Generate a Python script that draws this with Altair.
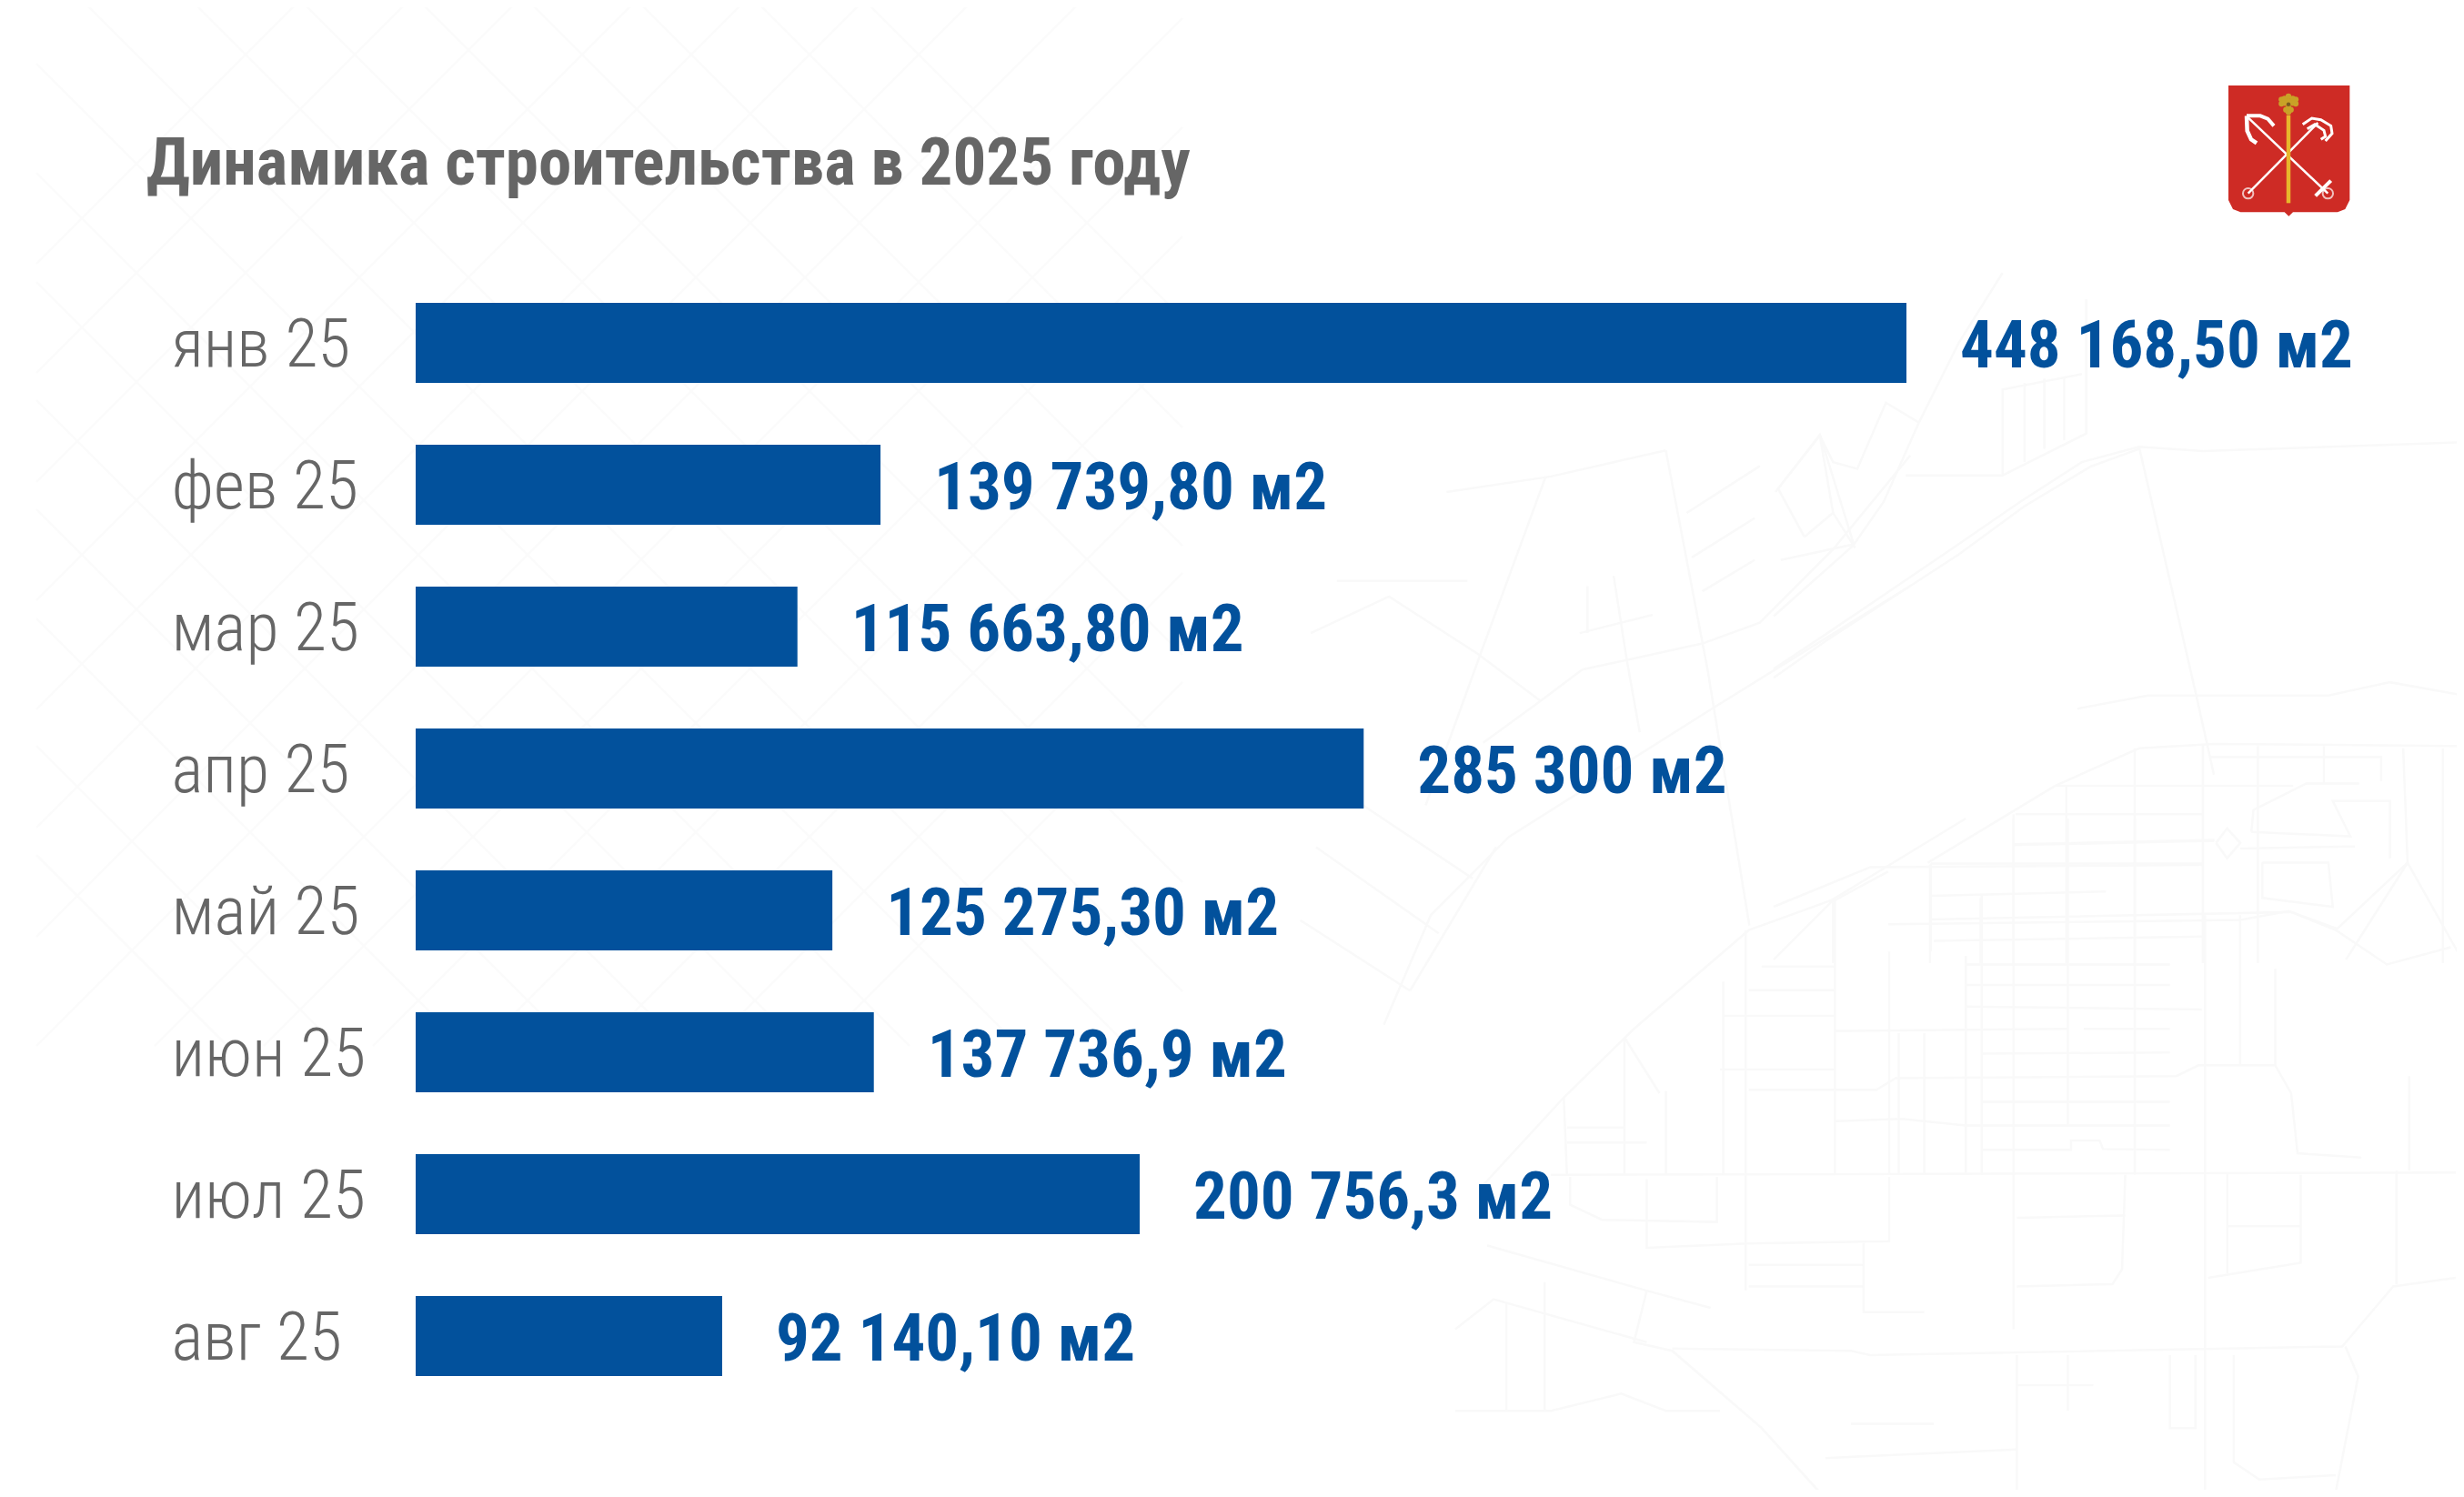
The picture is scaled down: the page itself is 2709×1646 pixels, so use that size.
import altair as alt
import pandas as pd

months = ["янв 25", "фев 25", "мар 25", "апр 25", "май 25", "июн 25", "июл 25", "авг 25"]
bar_values = [448168.5, 139739.8, 114770, 285000, 125275.3, 137736.9, 217660, 92140.1]
value_labels = ["448 168,50 м2", "139 739,80 м2", "115 663,80 м2", "285 300 м2",
                "125 275,30 м2", "137 736,9 м2", "200 756,3 м2", "92 140,10 м2"]
title_text = "Динамика строительства в 2025 году"

BLUE = "#02519C"
GREY = "#666666"
FONT = "Roboto Condensed"
ROAD = "#f9f9f9"
HATCH = "#fbfbfb"

z3 = [
 [(875,60),(1190,50)],[(1230,70),(1410,65)],[(745,105),(1170,105)],[(745,180),(1020,170)],
 [(745,235),(1310,218),(1380,260),(1460,340),(1560,300)],[(750,285),(1170,275)],[(800,340),(1120,340)],
 [(800,388),(1120,388)],[(800,438),(1170,445)],[(595,495),(960,490)],[(985,490),(1120,490)],
 [(825,548),(1120,545)],[(415,585),(595,585)],[(460,632),(660,632),(690,605),(1130,600),(1165,575),(1285,575)],
 [(825,660),(1120,660)],[(595,705),(700,700),(800,715),(1120,715)],
 [(825,772),(965,772),(965,750),(1010,750),(1015,770),(1120,772)],[(150,830),(1568,825)],
 [(875,0),(875,1190)],[(960,0),(960,715)],[(1065,0),(1065,830)],[(1175,225),(1175,1568)],[(1230,225),(1230,575)],
 [(1285,350),(1285,575),(1310,640),(1320,780),(1420,790)],[(825,180),(825,830)],[(745,105),(745,310)],
 [(595,190),(595,830)],[(455,260),(455,1100)],[(420,380),(420,830)],[(680,310),(680,830)],[(800,320),(800,830)],
 [(735,500),(735,830)],[(695,500),(695,830)],
 [(40,860),(170,650),(280,490),(460,260),(590,190),(800,0)],[(170,650),(175,830)],[(175,720),(265,720)],
 [(175,755),(300,755)],[(265,510),(265,830)],[(320,640),(265,510)],[(330,635),(330,830)],
 [(480,345),(595,345)],[(460,400),(595,400)],[(420,460),(595,460)],
 [(180,835),(180,900),(230,935),(410,940),(410,835)],[(300,840),(300,1000),(460,990),(680,985),(680,835)],
 [(50,995),(300,1100),(400,1140)],[(300,1100),(280,1220),(340,1240),(480,1420),(570,1568)],
 [(460,1040),(640,1040)],[(460,1090),(640,1090)],[(640,990),(640,1150),(735,1150)],
 [(880,930),(1050,925)],[(1050,830),(1045,1050),(1030,1085),(880,1090)],
 [(340,1235),(620,1240),(650,1250),(1390,1230),(1470,1090),(1568,1070)],
 [(1180,1070),(1325,1035),(1325,830)],[(1210,950),(1325,950)],[(1210,825),(1210,1060)],
 [(1495,600),(1495,820)],[(1475,820),(1475,1085)],[(0,1380),(150,1380),(260,1340),(330,1380),(415,1380)],
 [(140,1080),(140,1380)],[(80,1130),(80,1380)],[(0,1190),(60,1120),(300,1220)],
 [(620,1410),(750,1410)],[(580,1490),(880,1470)],[(880,1250),(880,1568)],[(960,1250),(960,1380)],
 [(880,1320),(1000,1320)],[(1395,1230),(1415,1300),(1380,1568)],[(1220,1250),(1220,1500),(1260,1540),(1380,1530)],
 [(1120,1250),(1120,1420),(1160,1420),(1160,1250)],
]
z4 = [
 [(1100,340),(1180,760),(1260,1250)],[(680,420),(880,390),(1100,340)],[(870,390),(745,730),(640,1020)],
 [(750,900),(860,820),(940,760),(1170,710),(1280,670),(1420,530),(1568,350)],
 [(1568,600),(1180,840),(800,1080),(650,1230),(560,1440)],[(1140,460),(1280,370)],[(1150,545),(1270,470)],
 [(1170,610),(1270,550)],[(1310,420),(1395,310),(1460,520),(1320,550)],[(420,690),(570,620),(740,730),(860,820)],
 [(430,1100),(665,1265)],[(490,1000),(730,1160)],[(400,1240),(610,1375)],[(610,1375),(775,1100)],
 [(950,600),(950,690)],[(1000,580),(1025,740),(1050,880)],[(935,690),(1075,655)],
 [(470,590),(720,590)],
]
z5 = [
 [(0,780),(180,620),(250,520),(330,340),(420,160),(520,0)],
 [(0,900),(120,820),(400,630),(560,520),(700,430),(830,395),(975,405),(1568,385)],
 [(0,920),(120,835),(420,640),(570,530),(720,440),(830,400)],[(830,395),(960,960),(1000,1140)],
 [(300,460),(520,460),(710,365),(710,60)],[(520,460),(520,265),(700,230)],[(570,430),(570,250)],
 [(615,400),(615,240)],[(660,380),(660,235)],[(10,490),(105,370),(135,430),(190,445),(255,295),(330,340)],
 [(10,490),(70,600)],[(70,600),(135,545),(105,370)],[(135,545),(185,625)],
 [(350,1340),(640,1165),(830,1080),(1000,1070),(1568,1075)],[(0,1440),(220,1350),(975,1345)],
 [(690,990),(850,960),(1260,960),(1400,930),(1568,960)],[(0,1560),(130,1430),(260,1360)],
 [(550,1230),(975,1230)],[(545,1300),(1000,1290)],[(640,1165),(1180,1165)],[(665,1165),(665,1568)],
 [(545,1230),(545,1568)],[(820,1080),(820,1568)],[(975,1070),(975,1568)],[(1100,1075),(1100,1568)],
 [(1250,1075),(1250,1160)],[(355,1345),(355,1568)],[(135,1430),(135,1568)],[(470,1420),(470,1568)],
 [(260,1480),(1060,1470),(1170,1450),(1280,1490),(1440,1340),(1568,1568)],[(1300,1560),(1440,1340),(1430,1080)],
 [(1085,1270),(1090,1220),(1210,1160),(1330,1160)],[(1085,1270),(1310,1280),(1270,1200),(1400,1200),(1400,1330)],
 [(1110,1340),(1260,1340),(1270,1440),(1110,1420),(1110,1340)],[(1520,1080),(1520,1568)],
 [(1005,1295),(1030,1262),(1060,1295),(1030,1330),(1005,1295)],[(990,1100),(1380,1100),(1380,1155)],
]
hatch_down = [-900,-780,-640,-520,-400,-270,-150,-30,90,210,330,460,580,700,830,950]
hatch_up = [330,450,570,700,820,950,1070,1190,1320,1440,1560,1680,1810,1930,2050]

rows = []
def add(path, fx, fy, group):
    i = len({r["id"] for r in rows})
    for k, (a, b) in enumerate(path):
        rows.append({"id": i, "k": k, "x": fx(a), "y": fy(b), "g": group})
for p in z3:
    add(p, lambda a: 1600 + a / 1.4255, lambda b: 900 + b / 2.119, "road")
for p in z4:
    add(p, lambda a: 1200 + a / 1.742, lambda b: 300 + b / 1.742, "road")
for p in z5:
    add(p, lambda a: 1950 + a / 2.066, lambda b: 300 + b / 2.066, "road")
for c in hatch_down:
    add([(max(c, 40), max(c, 40) - c), (min(c + 1150, 1300), min(c + 1150, 1300) - c)], float, float, "hatch")
for c in hatch_up:
    add([(max(c - 1150, 40), c - max(c - 1150, 40)), (min(c, 1300), c - min(c, 1300))], float, float, "hatch")
roads = pd.DataFrame(rows)

shield_x = [150, 150, 165, 190, 335, 349, 363, 510, 535, 550, 550]
shield_lo = [72, 72, 72, 72, 72, 72, 72, 72, 72, 72, 72]
shield_hi = [72, 450, 480, 490, 490, 503, 490, 490, 480, 450, 72]
white_paths = [
 ([(478,428),(215,178)], 2.5), ([(215,428),(445,195)], 2.5),
 ([(437,436),(488,386)], 4),
 ([(210,172),(255,172),(280,182),(300,205)], 4), ([(210,172),(212,222),(225,250),(243,262)], 4.5),
 ([(395,200),(425,180),(455,185),(488,205),(492,230),(470,255)], 3),
 ([(410,215),(435,200),(465,220),(470,240),(455,250)], 3),
]
gold_paths = [[(348,170),(348,460)]]
gold_dots = [(348,108),(325,118),(325,132),(335,115),(335,130),(362,115),(362,130),(372,118),(372,132),
             (348,125),(348,145),(340,152),(356,152),(348,160)]
dark_dots = [(348,134)]

emb = []
for i, (p, w) in enumerate(white_paths):
    for k, (a, b) in enumerate(p):
        emb.append({"id": i, "k": k, "x": 2400 + a / 3, "y": 70 + b / 3, "w": w})
emblem_white = pd.DataFrame(emb)
shield = pd.DataFrame({"x": [2400 + a / 3 for a in shield_x],
                       "y": [70 + a / 3 for a in shield_lo],
                       "y2": [70 + a / 3 for a in shield_hi]})
scepter = pd.DataFrame([{"x": 2400 + a / 3, "y": 70 + b / 3} for p in gold_paths for a, b in p])
dots = pd.DataFrame([{"x": 2400 + a / 3, "y": 70 + b / 3} for a, b in gold_dots])
dark = pd.DataFrame([{"x": 2400 + a / 3, "y": 70 + b / 3} for a, b in dark_dots])
rings = pd.DataFrame({"x": [2400 + 215 / 3, 2400 + 478 / 3], "y": [70 + 428 / 3, 70 + 428 / 3]})
title_df = pd.DataFrame({"x": [161], "y": [203], "t": [title_text]})

# Plot area runs from x 457 to 2096 and y 299 to 1547 of the picture
LEFT, RIGHT, TOP, BOTTOM = 457, 2096, 299, 1547
px = alt.Scale(domain=[LEFT, RIGHT])
py = alt.Scale(domain=[BOTTOM, TOP])
X = alt.X("x:Q", scale=px, axis=None)
Y = alt.Y("y:Q", scale=py, axis=None)

hatch_layer = alt.Chart(roads[roads.g == "hatch"]).mark_line(color=HATCH, strokeWidth=2.5, clip=False).encode(
    x=X, y=Y, detail="id:N", order="k:Q")
road_layer = alt.Chart(roads[roads.g == "road"]).mark_line(color=ROAD, strokeWidth=2.5, clip=False).encode(
    x=X, y=Y, detail="id:N", order="k:Q")

title_layer = alt.Chart(title_df).mark_text(align="left", baseline="alphabetic", font=FONT, fontSize=73,
                                            fontWeight="bold", color=GREY, clip=False).encode(x=X, y=Y, text="t:N")

data = pd.DataFrame({"month": months, "value": bar_values, "label": value_labels})
band = alt.Scale(domain=months, paddingInner=0.436, paddingOuter=0.218)
vx = alt.X("value:Q", scale=alt.Scale(domain=[0, 448168.5], nice=False), axis=None)
bars = alt.Chart(data).mark_bar(color=BLUE).encode(
    x=vx,
    y=alt.Y("month:N", scale=band, sort=months, title=None,
            axis=alt.Axis(domain=False, ticks=False, grid=False, labelAlign="left", labelPadding=269,
                          labelFont=FONT, labelFontSize=74, labelFontWeight=300, labelColor=GREY, labelLimit=400,
                          labelBaseline="middle", labelOffset=4, zindex=1)),
)
labels = alt.Chart(data).mark_text(align="left", baseline="middle", dx=59, dy=5, color=BLUE, font=FONT,
                                   fontSize=73, fontWeight="bold", clip=False).encode(
    x=vx, y=alt.Y("month:N", scale=band, sort=months, axis=None), text="label:N")

shield_layer = alt.Chart(shield).mark_area(color="#CE2B25", clip=False, interpolate="linear").encode(
    x=X, y=Y, y2="y2:Q")
white_layer = alt.Chart(emblem_white).mark_line(color="#ffffff", clip=False).encode(
    x=X, y=Y, detail="id:N", order="k:Q", strokeWidth=alt.StrokeWidth("w:Q", scale=None))
ring_layer = alt.Chart(rings).mark_point(color="#ffffff", size=130, strokeWidth=2, clip=False).encode(x=X, y=Y)
scepter_layer = alt.Chart(scepter).mark_line(color="#E8B62C", strokeWidth=4.5, clip=False).encode(x=X, y=Y)
dot_layer = alt.Chart(dots).mark_circle(color="#C9A227", size=40, opacity=1, clip=False).encode(x=X, y=Y)
dark_layer = alt.Chart(dark).mark_circle(color="#7A5A20", size=20, opacity=1, clip=False).encode(x=X, y=Y)

chart = alt.layer(hatch_layer, road_layer, title_layer, bars, labels, shield_layer, white_layer, ring_layer,
                  scepter_layer, dot_layer, dark_layer).resolve_scale(
    x="independent", y="independent"
).properties(
    width=RIGHT - LEFT, height=BOTTOM - TOP,
    padding={"left": LEFT - 8, "top": TOP - 8, "right": 2693 - (RIGHT - 8), "bottom": 1630 - (BOTTOM - 8)},
    autosize="none", background="#ffffff",
).configure_view(stroke=None)

chart.save("out.html", embed_options={"renderer": "svg", "actions": False})
